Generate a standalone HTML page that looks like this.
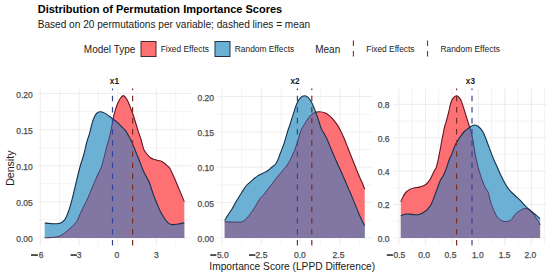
<!DOCTYPE html>
<html><head><meta charset="utf-8"><style>
html,body{margin:0;padding:0;background:#fff;}
body{width:550px;height:276px;overflow:hidden;}
svg{display:block;}
</style></head><body>
<svg width="550" height="276" viewBox="0 0 550 276">
<rect width="550" height="276" fill="#fff"/>
<text x="37.7" y="13.2" style="font-family:'Liberation Sans',sans-serif;font-size:11px;font-weight:bold" fill="#000">Distribution of Permutation Importance Scores</text>
<text x="37.7" y="28.3" style="font-family:'Liberation Sans',sans-serif;font-size:10.1px" fill="#1a1a1a">Based on 20 permutations per variable; dashed lines = mean</text>
<text x="83.8" y="52.8" style="font-family:'Liberation Sans',sans-serif;font-size:10px" fill="#1a1a1a">Model Type</text>
<rect x="141" y="41.5" width="15" height="15" fill="rgb(253,113,117)" stroke="#4d2a2a" stroke-width="1"/>
<text x="160.7" y="52.3" style="font-family:'Liberation Sans',sans-serif;font-size:8.4px" fill="#1a1a1a">Fixed Effects</text>
<rect x="215" y="41.5" width="15" height="15" fill="rgb(108,176,212)" stroke="#1f3448" stroke-width="1"/>
<text x="234.8" y="52.3" style="font-family:'Liberation Sans',sans-serif;font-size:8.4px" fill="#1a1a1a">Random Effects</text>
<text x="315.2" y="52.8" style="font-family:'Liberation Sans',sans-serif;font-size:10px" fill="#1a1a1a">Mean</text>
<line x1="353.4" y1="40.5" x2="353.4" y2="57" stroke="#7a3020" stroke-width="1.1" stroke-dasharray="5.5 5"/>
<text x="366.3" y="52.3" style="font-family:'Liberation Sans',sans-serif;font-size:8.4px" fill="#1a1a1a">Fixed Effects</text>
<line x1="427.5" y1="40.5" x2="427.5" y2="57" stroke="#34449e" stroke-width="1.1" stroke-dasharray="5.5 5"/>
<text x="440.5" y="52.3" style="font-family:'Liberation Sans',sans-serif;font-size:8.4px" fill="#1a1a1a">Random Effects</text>
<line x1="37.7" y1="219.85" x2="191.5" y2="219.85" stroke="#f3f3f3" stroke-width="1"/>
<line x1="37.7" y1="183.8" x2="191.5" y2="183.8" stroke="#f3f3f3" stroke-width="1"/>
<line x1="37.7" y1="147.75" x2="191.5" y2="147.75" stroke="#f3f3f3" stroke-width="1"/>
<line x1="37.7" y1="111.65" x2="191.5" y2="111.65" stroke="#f3f3f3" stroke-width="1"/>
<line x1="59.65" y1="88.5" x2="59.65" y2="245.6" stroke="#f3f3f3" stroke-width="1"/>
<line x1="98.35" y1="88.5" x2="98.35" y2="245.6" stroke="#f3f3f3" stroke-width="1"/>
<line x1="137.05" y1="88.5" x2="137.05" y2="245.6" stroke="#f3f3f3" stroke-width="1"/>
<line x1="175.75" y1="88.5" x2="175.75" y2="245.6" stroke="#f3f3f3" stroke-width="1"/>
<line x1="37.7" y1="237.9" x2="191.5" y2="237.9" stroke="#ececec" stroke-width="1"/>
<line x1="37.7" y1="201.8" x2="191.5" y2="201.8" stroke="#ececec" stroke-width="1"/>
<line x1="37.7" y1="165.8" x2="191.5" y2="165.8" stroke="#ececec" stroke-width="1"/>
<line x1="37.7" y1="129.7" x2="191.5" y2="129.7" stroke="#ececec" stroke-width="1"/>
<line x1="37.7" y1="93.6" x2="191.5" y2="93.6" stroke="#ececec" stroke-width="1"/>
<line x1="40.3" y1="88.5" x2="40.3" y2="245.6" stroke="#ececec" stroke-width="1"/>
<line x1="79.0" y1="88.5" x2="79.0" y2="245.6" stroke="#ececec" stroke-width="1"/>
<line x1="117.7" y1="88.5" x2="117.7" y2="245.6" stroke="#ececec" stroke-width="1"/>
<line x1="156.4" y1="88.5" x2="156.4" y2="245.6" stroke="#ececec" stroke-width="1"/>
<defs><clipPath id="cb0"><path d="M44.70,223.00 C45.58,223.08 48.37,223.37 50.00,223.50 C51.63,223.63 53.08,223.80 54.50,223.80 C55.92,223.80 57.28,223.72 58.50,223.50 C59.72,223.28 60.63,223.33 61.80,222.50 C62.97,221.67 64.30,220.58 65.50,218.50 C66.70,216.42 67.83,213.48 69.00,210.00 C70.17,206.52 71.27,202.38 72.50,197.60 C73.73,192.82 75.07,186.73 76.40,181.30 C77.73,175.87 79.23,169.55 80.50,165.00 C81.77,160.45 82.95,157.83 84.00,154.00 C85.05,150.17 85.83,145.57 86.80,142.00 C87.77,138.43 88.90,135.80 89.80,132.60 C90.70,129.40 91.38,125.52 92.20,122.80 C93.02,120.08 93.88,117.93 94.70,116.30 C95.52,114.67 96.25,113.75 97.10,113.00 C97.95,112.25 98.85,111.93 99.80,111.80 C100.75,111.67 101.75,111.85 102.80,112.20 C103.85,112.55 105.00,113.22 106.10,113.90 C107.20,114.58 108.28,115.47 109.40,116.30 C110.52,117.13 111.52,117.93 112.80,118.90 C114.08,119.87 115.72,120.90 117.10,122.10 C118.48,123.30 119.83,124.83 121.10,126.10 C122.37,127.37 123.68,128.52 124.70,129.70 C125.72,130.88 126.45,131.98 127.20,133.20 C127.95,134.42 128.55,135.78 129.20,137.00 C129.85,138.22 130.45,139.15 131.10,140.50 C131.75,141.85 132.43,143.50 133.10,145.10 C133.77,146.70 134.42,148.42 135.10,150.10 C135.78,151.78 136.52,153.50 137.20,155.20 C137.88,156.90 138.53,158.60 139.20,160.30 C139.87,162.00 140.50,163.62 141.20,165.40 C141.90,167.18 142.57,169.15 143.40,171.00 C144.23,172.85 145.27,174.75 146.20,176.50 C147.13,178.25 148.15,179.55 149.00,181.50 C149.85,183.45 150.55,185.97 151.30,188.20 C152.05,190.43 152.75,192.80 153.50,194.90 C154.25,197.00 155.05,198.93 155.80,200.80 C156.55,202.67 157.27,204.42 158.00,206.10 C158.73,207.78 159.47,209.40 160.20,210.90 C160.93,212.40 161.65,213.78 162.40,215.10 C163.15,216.42 163.95,217.72 164.70,218.80 C165.45,219.88 166.15,220.80 166.90,221.60 C167.65,222.40 168.42,223.12 169.20,223.60 C169.98,224.08 170.63,224.35 171.60,224.50 C172.57,224.65 173.85,224.58 175.00,224.50 C176.15,224.42 177.47,224.18 178.50,224.00 C179.53,223.82 180.23,223.62 181.20,223.40 C182.17,223.18 183.78,222.82 184.30,222.70 L184.30,237.90 L44.70,237.90 Z"/></clipPath></defs>
<path d="M44.70,237.80 C45.42,237.77 47.45,237.70 49.00,237.60 C50.55,237.50 52.30,237.42 54.00,237.20 C55.70,236.98 57.60,236.88 59.20,236.30 C60.80,235.72 62.30,234.57 63.60,233.70 C64.90,232.83 65.85,232.05 67.00,231.10 C68.15,230.15 69.33,229.08 70.50,228.00 C71.67,226.92 72.87,225.88 74.00,224.60 C75.13,223.32 76.18,222.30 77.30,220.30 C78.42,218.30 79.55,215.08 80.70,212.60 C81.85,210.12 83.18,207.47 84.20,205.40 C85.22,203.33 85.92,202.07 86.80,200.20 C87.68,198.33 88.47,196.62 89.50,194.20 C90.53,191.78 91.98,188.13 93.00,185.70 C94.02,183.27 94.78,181.50 95.60,179.60 C96.42,177.70 97.13,175.93 97.90,174.30 C98.67,172.67 99.43,171.62 100.20,169.80 C100.97,167.98 101.82,165.63 102.50,163.40 C103.18,161.17 103.78,158.43 104.30,156.40 C104.82,154.37 105.17,152.93 105.60,151.20 C106.03,149.47 106.23,148.37 106.90,146.00 C107.57,143.63 108.88,139.77 109.60,137.00 C110.32,134.23 110.73,131.77 111.20,129.40 C111.67,127.03 111.97,125.13 112.40,122.80 C112.83,120.47 113.25,117.73 113.80,115.40 C114.35,113.07 115.07,110.75 115.70,108.80 C116.33,106.85 116.87,105.38 117.60,103.70 C118.33,102.02 119.15,100.05 120.10,98.70 C121.05,97.35 122.23,95.60 123.30,95.60 C124.37,95.60 125.55,97.35 126.50,98.70 C127.45,100.05 128.27,102.02 129.00,103.70 C129.73,105.38 130.27,107.10 130.90,108.80 C131.53,110.50 132.17,112.10 132.80,113.90 C133.43,115.70 133.87,116.95 134.70,119.60 C135.53,122.25 136.73,126.47 137.80,129.80 C138.87,133.13 140.25,136.83 141.10,139.60 C141.95,142.37 142.40,144.67 142.90,146.40 C143.40,148.13 143.37,148.65 144.10,150.00 C144.83,151.35 146.17,153.17 147.30,154.50 C148.43,155.83 149.70,157.17 150.90,158.00 C152.10,158.83 153.28,159.08 154.50,159.50 C155.72,159.92 156.98,160.18 158.20,160.50 C159.42,160.82 160.75,160.95 161.80,161.40 C162.85,161.85 163.58,162.45 164.50,163.20 C165.42,163.95 166.42,165.07 167.30,165.90 C168.18,166.73 168.60,166.15 169.80,168.20 C171.00,170.25 172.97,174.73 174.50,178.20 C176.03,181.67 177.37,185.10 179.00,189.00 C180.63,192.90 183.42,199.50 184.30,201.60 L184.30,237.90 L44.70,237.90 Z" fill="rgb(253,113,117)"/>
<path d="M44.70,237.80 C45.42,237.77 47.45,237.70 49.00,237.60 C50.55,237.50 52.30,237.42 54.00,237.20 C55.70,236.98 57.60,236.88 59.20,236.30 C60.80,235.72 62.30,234.57 63.60,233.70 C64.90,232.83 65.85,232.05 67.00,231.10 C68.15,230.15 69.33,229.08 70.50,228.00 C71.67,226.92 72.87,225.88 74.00,224.60 C75.13,223.32 76.18,222.30 77.30,220.30 C78.42,218.30 79.55,215.08 80.70,212.60 C81.85,210.12 83.18,207.47 84.20,205.40 C85.22,203.33 85.92,202.07 86.80,200.20 C87.68,198.33 88.47,196.62 89.50,194.20 C90.53,191.78 91.98,188.13 93.00,185.70 C94.02,183.27 94.78,181.50 95.60,179.60 C96.42,177.70 97.13,175.93 97.90,174.30 C98.67,172.67 99.43,171.62 100.20,169.80 C100.97,167.98 101.82,165.63 102.50,163.40 C103.18,161.17 103.78,158.43 104.30,156.40 C104.82,154.37 105.17,152.93 105.60,151.20 C106.03,149.47 106.23,148.37 106.90,146.00 C107.57,143.63 108.88,139.77 109.60,137.00 C110.32,134.23 110.73,131.77 111.20,129.40 C111.67,127.03 111.97,125.13 112.40,122.80 C112.83,120.47 113.25,117.73 113.80,115.40 C114.35,113.07 115.07,110.75 115.70,108.80 C116.33,106.85 116.87,105.38 117.60,103.70 C118.33,102.02 119.15,100.05 120.10,98.70 C121.05,97.35 122.23,95.60 123.30,95.60 C124.37,95.60 125.55,97.35 126.50,98.70 C127.45,100.05 128.27,102.02 129.00,103.70 C129.73,105.38 130.27,107.10 130.90,108.80 C131.53,110.50 132.17,112.10 132.80,113.90 C133.43,115.70 133.87,116.95 134.70,119.60 C135.53,122.25 136.73,126.47 137.80,129.80 C138.87,133.13 140.25,136.83 141.10,139.60 C141.95,142.37 142.40,144.67 142.90,146.40 C143.40,148.13 143.37,148.65 144.10,150.00 C144.83,151.35 146.17,153.17 147.30,154.50 C148.43,155.83 149.70,157.17 150.90,158.00 C152.10,158.83 153.28,159.08 154.50,159.50 C155.72,159.92 156.98,160.18 158.20,160.50 C159.42,160.82 160.75,160.95 161.80,161.40 C162.85,161.85 163.58,162.45 164.50,163.20 C165.42,163.95 166.42,165.07 167.30,165.90 C168.18,166.73 168.60,166.15 169.80,168.20 C171.00,170.25 172.97,174.73 174.50,178.20 C176.03,181.67 177.37,185.10 179.00,189.00 C180.63,192.90 183.42,199.50 184.30,201.60" fill="none" stroke="#651522" stroke-width="1.1"/>
<path d="M44.70,223.00 C45.58,223.08 48.37,223.37 50.00,223.50 C51.63,223.63 53.08,223.80 54.50,223.80 C55.92,223.80 57.28,223.72 58.50,223.50 C59.72,223.28 60.63,223.33 61.80,222.50 C62.97,221.67 64.30,220.58 65.50,218.50 C66.70,216.42 67.83,213.48 69.00,210.00 C70.17,206.52 71.27,202.38 72.50,197.60 C73.73,192.82 75.07,186.73 76.40,181.30 C77.73,175.87 79.23,169.55 80.50,165.00 C81.77,160.45 82.95,157.83 84.00,154.00 C85.05,150.17 85.83,145.57 86.80,142.00 C87.77,138.43 88.90,135.80 89.80,132.60 C90.70,129.40 91.38,125.52 92.20,122.80 C93.02,120.08 93.88,117.93 94.70,116.30 C95.52,114.67 96.25,113.75 97.10,113.00 C97.95,112.25 98.85,111.93 99.80,111.80 C100.75,111.67 101.75,111.85 102.80,112.20 C103.85,112.55 105.00,113.22 106.10,113.90 C107.20,114.58 108.28,115.47 109.40,116.30 C110.52,117.13 111.52,117.93 112.80,118.90 C114.08,119.87 115.72,120.90 117.10,122.10 C118.48,123.30 119.83,124.83 121.10,126.10 C122.37,127.37 123.68,128.52 124.70,129.70 C125.72,130.88 126.45,131.98 127.20,133.20 C127.95,134.42 128.55,135.78 129.20,137.00 C129.85,138.22 130.45,139.15 131.10,140.50 C131.75,141.85 132.43,143.50 133.10,145.10 C133.77,146.70 134.42,148.42 135.10,150.10 C135.78,151.78 136.52,153.50 137.20,155.20 C137.88,156.90 138.53,158.60 139.20,160.30 C139.87,162.00 140.50,163.62 141.20,165.40 C141.90,167.18 142.57,169.15 143.40,171.00 C144.23,172.85 145.27,174.75 146.20,176.50 C147.13,178.25 148.15,179.55 149.00,181.50 C149.85,183.45 150.55,185.97 151.30,188.20 C152.05,190.43 152.75,192.80 153.50,194.90 C154.25,197.00 155.05,198.93 155.80,200.80 C156.55,202.67 157.27,204.42 158.00,206.10 C158.73,207.78 159.47,209.40 160.20,210.90 C160.93,212.40 161.65,213.78 162.40,215.10 C163.15,216.42 163.95,217.72 164.70,218.80 C165.45,219.88 166.15,220.80 166.90,221.60 C167.65,222.40 168.42,223.12 169.20,223.60 C169.98,224.08 170.63,224.35 171.60,224.50 C172.57,224.65 173.85,224.58 175.00,224.50 C176.15,224.42 177.47,224.18 178.50,224.00 C179.53,223.82 180.23,223.62 181.20,223.40 C182.17,223.18 183.78,222.82 184.30,222.70 L184.30,237.90 L44.70,237.90 Z" fill="rgb(108,176,212)"/>
<path d="M44.70,237.80 C45.42,237.77 47.45,237.70 49.00,237.60 C50.55,237.50 52.30,237.42 54.00,237.20 C55.70,236.98 57.60,236.88 59.20,236.30 C60.80,235.72 62.30,234.57 63.60,233.70 C64.90,232.83 65.85,232.05 67.00,231.10 C68.15,230.15 69.33,229.08 70.50,228.00 C71.67,226.92 72.87,225.88 74.00,224.60 C75.13,223.32 76.18,222.30 77.30,220.30 C78.42,218.30 79.55,215.08 80.70,212.60 C81.85,210.12 83.18,207.47 84.20,205.40 C85.22,203.33 85.92,202.07 86.80,200.20 C87.68,198.33 88.47,196.62 89.50,194.20 C90.53,191.78 91.98,188.13 93.00,185.70 C94.02,183.27 94.78,181.50 95.60,179.60 C96.42,177.70 97.13,175.93 97.90,174.30 C98.67,172.67 99.43,171.62 100.20,169.80 C100.97,167.98 101.82,165.63 102.50,163.40 C103.18,161.17 103.78,158.43 104.30,156.40 C104.82,154.37 105.17,152.93 105.60,151.20 C106.03,149.47 106.23,148.37 106.90,146.00 C107.57,143.63 108.88,139.77 109.60,137.00 C110.32,134.23 110.73,131.77 111.20,129.40 C111.67,127.03 111.97,125.13 112.40,122.80 C112.83,120.47 113.25,117.73 113.80,115.40 C114.35,113.07 115.07,110.75 115.70,108.80 C116.33,106.85 116.87,105.38 117.60,103.70 C118.33,102.02 119.15,100.05 120.10,98.70 C121.05,97.35 122.23,95.60 123.30,95.60 C124.37,95.60 125.55,97.35 126.50,98.70 C127.45,100.05 128.27,102.02 129.00,103.70 C129.73,105.38 130.27,107.10 130.90,108.80 C131.53,110.50 132.17,112.10 132.80,113.90 C133.43,115.70 133.87,116.95 134.70,119.60 C135.53,122.25 136.73,126.47 137.80,129.80 C138.87,133.13 140.25,136.83 141.10,139.60 C141.95,142.37 142.40,144.67 142.90,146.40 C143.40,148.13 143.37,148.65 144.10,150.00 C144.83,151.35 146.17,153.17 147.30,154.50 C148.43,155.83 149.70,157.17 150.90,158.00 C152.10,158.83 153.28,159.08 154.50,159.50 C155.72,159.92 156.98,160.18 158.20,160.50 C159.42,160.82 160.75,160.95 161.80,161.40 C162.85,161.85 163.58,162.45 164.50,163.20 C165.42,163.95 166.42,165.07 167.30,165.90 C168.18,166.73 168.60,166.15 169.80,168.20 C171.00,170.25 172.97,174.73 174.50,178.20 C176.03,181.67 177.37,185.10 179.00,189.00 C180.63,192.90 183.42,199.50 184.30,201.60 L184.30,237.90 L44.70,237.90 Z" fill="rgb(130,119,163)" clip-path="url(#cb0)"/>
<path d="M44.70,237.80 C45.42,237.77 47.45,237.70 49.00,237.60 C50.55,237.50 52.30,237.42 54.00,237.20 C55.70,236.98 57.60,236.88 59.20,236.30 C60.80,235.72 62.30,234.57 63.60,233.70 C64.90,232.83 65.85,232.05 67.00,231.10 C68.15,230.15 69.33,229.08 70.50,228.00 C71.67,226.92 72.87,225.88 74.00,224.60 C75.13,223.32 76.18,222.30 77.30,220.30 C78.42,218.30 79.55,215.08 80.70,212.60 C81.85,210.12 83.18,207.47 84.20,205.40 C85.22,203.33 85.92,202.07 86.80,200.20 C87.68,198.33 88.47,196.62 89.50,194.20 C90.53,191.78 91.98,188.13 93.00,185.70 C94.02,183.27 94.78,181.50 95.60,179.60 C96.42,177.70 97.13,175.93 97.90,174.30 C98.67,172.67 99.43,171.62 100.20,169.80 C100.97,167.98 101.82,165.63 102.50,163.40 C103.18,161.17 103.78,158.43 104.30,156.40 C104.82,154.37 105.17,152.93 105.60,151.20 C106.03,149.47 106.23,148.37 106.90,146.00 C107.57,143.63 108.88,139.77 109.60,137.00 C110.32,134.23 110.73,131.77 111.20,129.40 C111.67,127.03 111.97,125.13 112.40,122.80 C112.83,120.47 113.25,117.73 113.80,115.40 C114.35,113.07 115.07,110.75 115.70,108.80 C116.33,106.85 116.87,105.38 117.60,103.70 C118.33,102.02 119.15,100.05 120.10,98.70 C121.05,97.35 122.23,95.60 123.30,95.60 C124.37,95.60 125.55,97.35 126.50,98.70 C127.45,100.05 128.27,102.02 129.00,103.70 C129.73,105.38 130.27,107.10 130.90,108.80 C131.53,110.50 132.17,112.10 132.80,113.90 C133.43,115.70 133.87,116.95 134.70,119.60 C135.53,122.25 136.73,126.47 137.80,129.80 C138.87,133.13 140.25,136.83 141.10,139.60 C141.95,142.37 142.40,144.67 142.90,146.40 C143.40,148.13 143.37,148.65 144.10,150.00 C144.83,151.35 146.17,153.17 147.30,154.50 C148.43,155.83 149.70,157.17 150.90,158.00 C152.10,158.83 153.28,159.08 154.50,159.50 C155.72,159.92 156.98,160.18 158.20,160.50 C159.42,160.82 160.75,160.95 161.80,161.40 C162.85,161.85 163.58,162.45 164.50,163.20 C165.42,163.95 166.42,165.07 167.30,165.90 C168.18,166.73 168.60,166.15 169.80,168.20 C171.00,170.25 172.97,174.73 174.50,178.20 C176.03,181.67 177.37,185.10 179.00,189.00 C180.63,192.90 183.42,199.50 184.30,201.60" fill="none" stroke="#4a3a6a" stroke-width="1" clip-path="url(#cb0)"/>
<path d="M44.70,223.00 C45.58,223.08 48.37,223.37 50.00,223.50 C51.63,223.63 53.08,223.80 54.50,223.80 C55.92,223.80 57.28,223.72 58.50,223.50 C59.72,223.28 60.63,223.33 61.80,222.50 C62.97,221.67 64.30,220.58 65.50,218.50 C66.70,216.42 67.83,213.48 69.00,210.00 C70.17,206.52 71.27,202.38 72.50,197.60 C73.73,192.82 75.07,186.73 76.40,181.30 C77.73,175.87 79.23,169.55 80.50,165.00 C81.77,160.45 82.95,157.83 84.00,154.00 C85.05,150.17 85.83,145.57 86.80,142.00 C87.77,138.43 88.90,135.80 89.80,132.60 C90.70,129.40 91.38,125.52 92.20,122.80 C93.02,120.08 93.88,117.93 94.70,116.30 C95.52,114.67 96.25,113.75 97.10,113.00 C97.95,112.25 98.85,111.93 99.80,111.80 C100.75,111.67 101.75,111.85 102.80,112.20 C103.85,112.55 105.00,113.22 106.10,113.90 C107.20,114.58 108.28,115.47 109.40,116.30 C110.52,117.13 111.52,117.93 112.80,118.90 C114.08,119.87 115.72,120.90 117.10,122.10 C118.48,123.30 119.83,124.83 121.10,126.10 C122.37,127.37 123.68,128.52 124.70,129.70 C125.72,130.88 126.45,131.98 127.20,133.20 C127.95,134.42 128.55,135.78 129.20,137.00 C129.85,138.22 130.45,139.15 131.10,140.50 C131.75,141.85 132.43,143.50 133.10,145.10 C133.77,146.70 134.42,148.42 135.10,150.10 C135.78,151.78 136.52,153.50 137.20,155.20 C137.88,156.90 138.53,158.60 139.20,160.30 C139.87,162.00 140.50,163.62 141.20,165.40 C141.90,167.18 142.57,169.15 143.40,171.00 C144.23,172.85 145.27,174.75 146.20,176.50 C147.13,178.25 148.15,179.55 149.00,181.50 C149.85,183.45 150.55,185.97 151.30,188.20 C152.05,190.43 152.75,192.80 153.50,194.90 C154.25,197.00 155.05,198.93 155.80,200.80 C156.55,202.67 157.27,204.42 158.00,206.10 C158.73,207.78 159.47,209.40 160.20,210.90 C160.93,212.40 161.65,213.78 162.40,215.10 C163.15,216.42 163.95,217.72 164.70,218.80 C165.45,219.88 166.15,220.80 166.90,221.60 C167.65,222.40 168.42,223.12 169.20,223.60 C169.98,224.08 170.63,224.35 171.60,224.50 C172.57,224.65 173.85,224.58 175.00,224.50 C176.15,224.42 177.47,224.18 178.50,224.00 C179.53,223.82 180.23,223.62 181.20,223.40 C182.17,223.18 183.78,222.82 184.30,222.70" fill="none" stroke="#15304a" stroke-width="1.1"/>
<line x1="132.6" y1="245.6" x2="132.6" y2="88.5" stroke="#7a3020" stroke-width="1.2" stroke-dasharray="5.5 5.6"/>
<line x1="112.5" y1="245.6" x2="112.5" y2="88.5" stroke="#34449e" stroke-width="1.2" stroke-dasharray="5.5 5.6"/>
<text x="114.4" y="84.4" text-anchor="middle" style="font-family:'Liberation Sans',sans-serif;font-size:8.2px;font-weight:bold" fill="#1a1a1a">x1</text>
<text x="41.2" y="257.9" text-anchor="middle" style="font-family:'Liberation Sans',sans-serif;font-size:8.5px" fill="#4d4d4d" stroke="#4d4d4d" stroke-width="0.25">6</text>
<rect x="31.0" y="254.3" width="6.9" height="1.5" fill="#222"/>
<text x="79.2" y="257.9" text-anchor="middle" style="font-family:'Liberation Sans',sans-serif;font-size:8.5px" fill="#4d4d4d" stroke="#4d4d4d" stroke-width="0.25">3</text>
<rect x="70.6" y="254.3" width="6.3" height="1.5" fill="#222"/>
<text x="116.8" y="257.9" text-anchor="middle" style="font-family:'Liberation Sans',sans-serif;font-size:8.5px" fill="#4d4d4d" stroke="#4d4d4d" stroke-width="0.25">0</text>
<text x="156.4" y="257.9" text-anchor="middle" style="font-family:'Liberation Sans',sans-serif;font-size:8.5px" fill="#4d4d4d" stroke="#4d4d4d" stroke-width="0.25">3</text>
<text x="32.8" y="241.8" text-anchor="end" style="font-family:'Liberation Sans',sans-serif;font-size:8.5px" fill="#4d4d4d" stroke="#4d4d4d" stroke-width="0.25">0.00</text>
<text x="32.8" y="205.7" text-anchor="end" style="font-family:'Liberation Sans',sans-serif;font-size:8.5px" fill="#4d4d4d" stroke="#4d4d4d" stroke-width="0.25">0.05</text>
<text x="32.8" y="169.7" text-anchor="end" style="font-family:'Liberation Sans',sans-serif;font-size:8.5px" fill="#4d4d4d" stroke="#4d4d4d" stroke-width="0.25">0.10</text>
<text x="32.8" y="133.6" text-anchor="end" style="font-family:'Liberation Sans',sans-serif;font-size:8.5px" fill="#4d4d4d" stroke="#4d4d4d" stroke-width="0.25">0.15</text>
<text x="32.8" y="97.5" text-anchor="end" style="font-family:'Liberation Sans',sans-serif;font-size:8.5px" fill="#4d4d4d" stroke="#4d4d4d" stroke-width="0.25">0.20</text>
<line x1="217.7" y1="220.25" x2="371.7" y2="220.25" stroke="#f3f3f3" stroke-width="1"/>
<line x1="217.7" y1="184.9" x2="371.7" y2="184.9" stroke="#f3f3f3" stroke-width="1"/>
<line x1="217.7" y1="149.55" x2="371.7" y2="149.55" stroke="#f3f3f3" stroke-width="1"/>
<line x1="217.7" y1="114.25" x2="371.7" y2="114.25" stroke="#f3f3f3" stroke-width="1"/>
<line x1="241.7" y1="88.5" x2="241.7" y2="245.6" stroke="#f3f3f3" stroke-width="1"/>
<line x1="281.0" y1="88.5" x2="281.0" y2="245.6" stroke="#f3f3f3" stroke-width="1"/>
<line x1="320.3" y1="88.5" x2="320.3" y2="245.6" stroke="#f3f3f3" stroke-width="1"/>
<line x1="359.6" y1="88.5" x2="359.6" y2="245.6" stroke="#f3f3f3" stroke-width="1"/>
<line x1="217.7" y1="237.9" x2="371.7" y2="237.9" stroke="#ececec" stroke-width="1"/>
<line x1="217.7" y1="202.6" x2="371.7" y2="202.6" stroke="#ececec" stroke-width="1"/>
<line x1="217.7" y1="167.2" x2="371.7" y2="167.2" stroke="#ececec" stroke-width="1"/>
<line x1="217.7" y1="131.9" x2="371.7" y2="131.9" stroke="#ececec" stroke-width="1"/>
<line x1="217.7" y1="96.6" x2="371.7" y2="96.6" stroke="#ececec" stroke-width="1"/>
<line x1="222.0" y1="88.5" x2="222.0" y2="245.6" stroke="#ececec" stroke-width="1"/>
<line x1="261.3" y1="88.5" x2="261.3" y2="245.6" stroke="#ececec" stroke-width="1"/>
<line x1="300.6" y1="88.5" x2="300.6" y2="245.6" stroke="#ececec" stroke-width="1"/>
<line x1="340.0" y1="88.5" x2="340.0" y2="245.6" stroke="#ececec" stroke-width="1"/>
<defs><clipPath id="cb1"><path d="M224.70,220.50 C225.25,219.58 226.78,216.92 228.00,215.00 C229.22,213.08 230.83,210.92 232.00,209.00 C233.17,207.08 234.00,205.25 235.00,203.50 C236.00,201.75 236.83,200.42 238.00,198.50 C239.17,196.58 240.67,194.08 242.00,192.00 C243.33,189.92 244.67,187.62 246.00,186.00 C247.33,184.38 248.67,183.53 250.00,182.30 C251.33,181.07 252.67,179.72 254.00,178.60 C255.33,177.48 256.52,176.50 258.00,175.60 C259.48,174.70 261.25,174.05 262.90,173.20 C264.55,172.35 266.47,171.45 267.90,170.50 C269.33,169.55 270.28,168.50 271.50,167.50 C272.72,166.50 274.18,165.67 275.20,164.50 C276.22,163.33 276.72,162.45 277.60,160.50 C278.48,158.55 279.62,155.12 280.50,152.80 C281.38,150.48 282.18,148.55 282.90,146.60 C283.62,144.65 284.18,143.05 284.80,141.10 C285.42,139.15 286.03,136.83 286.60,134.90 C287.17,132.97 287.63,131.23 288.20,129.50 C288.77,127.77 289.33,126.52 290.00,124.50 C290.67,122.48 291.42,119.88 292.20,117.40 C292.98,114.92 293.88,112.02 294.70,109.60 C295.52,107.18 296.15,104.87 297.10,102.90 C298.05,100.93 299.17,98.98 300.40,97.80 C301.63,96.62 303.15,95.80 304.50,95.80 C305.85,95.80 307.28,96.65 308.50,97.80 C309.72,98.95 310.83,100.93 311.80,102.70 C312.77,104.47 313.48,106.37 314.30,108.40 C315.12,110.43 315.88,112.58 316.70,114.90 C317.52,117.22 318.38,119.88 319.20,122.30 C320.02,124.72 320.67,127.32 321.60,129.40 C322.53,131.48 323.73,132.82 324.80,134.80 C325.87,136.78 326.92,138.85 328.00,141.30 C329.08,143.75 330.25,146.97 331.30,149.50 C332.35,152.03 333.43,154.50 334.30,156.50 C335.17,158.50 335.73,159.78 336.50,161.50 C337.27,163.22 337.90,164.58 338.90,166.80 C339.90,169.02 341.52,172.60 342.50,174.80 C343.48,177.00 344.00,178.13 344.80,180.00 C345.60,181.87 346.38,183.87 347.30,186.00 C348.22,188.13 349.05,189.87 350.30,192.80 C351.55,195.73 353.32,199.98 354.80,203.60 C356.28,207.22 358.00,211.68 359.20,214.50 C360.40,217.32 361.08,218.62 362.00,220.50 C362.92,222.38 364.25,224.92 364.70,225.80 L364.70,237.90 L224.70,237.90 Z"/></clipPath></defs>
<path d="M224.70,221.80 C225.92,221.83 229.78,221.93 232.00,222.00 C234.22,222.07 236.18,222.30 238.00,222.20 C239.82,222.10 241.47,222.05 242.90,221.40 C244.33,220.75 245.37,219.53 246.60,218.30 C247.83,217.07 249.07,215.63 250.30,214.00 C251.53,212.37 252.77,210.45 254.00,208.50 C255.23,206.55 256.57,204.15 257.70,202.30 C258.83,200.45 259.87,198.58 260.80,197.40 C261.73,196.22 262.12,196.58 263.30,195.20 C264.48,193.82 266.32,191.15 267.90,189.10 C269.48,187.05 271.37,184.75 272.80,182.90 C274.23,181.05 275.37,179.43 276.50,178.00 C277.63,176.57 278.43,175.72 279.60,174.30 C280.77,172.88 282.12,171.22 283.50,169.50 C284.88,167.78 286.57,166.07 287.90,164.00 C289.23,161.93 290.38,159.38 291.50,157.10 C292.62,154.82 293.67,152.57 294.60,150.30 C295.53,148.03 296.38,145.65 297.10,143.50 C297.82,141.35 298.27,139.57 298.90,137.40 C299.53,135.23 299.97,132.68 300.90,130.50 C301.83,128.32 303.37,126.22 304.50,124.30 C305.63,122.38 306.62,120.55 307.70,119.00 C308.78,117.45 309.78,116.08 311.00,115.00 C312.22,113.92 313.58,113.03 315.00,112.50 C316.42,111.97 317.78,111.72 319.50,111.80 C321.22,111.88 323.62,112.32 325.30,113.00 C326.98,113.68 328.15,114.68 329.60,115.90 C331.05,117.12 332.67,118.72 334.00,120.30 C335.33,121.88 336.40,123.47 337.60,125.40 C338.80,127.33 340.10,129.72 341.20,131.90 C342.30,134.08 343.13,135.95 344.20,138.50 C345.27,141.05 346.55,144.53 347.60,147.20 C348.65,149.87 349.53,152.08 350.50,154.50 C351.47,156.92 352.43,159.28 353.40,161.70 C354.37,164.12 355.22,166.33 356.30,169.00 C357.38,171.67 358.87,175.28 359.90,177.70 C360.93,180.12 361.70,181.58 362.50,183.50 C363.30,185.42 364.33,188.25 364.70,189.20 L364.70,237.90 L224.70,237.90 Z" fill="rgb(253,113,117)"/>
<path d="M224.70,221.80 C225.92,221.83 229.78,221.93 232.00,222.00 C234.22,222.07 236.18,222.30 238.00,222.20 C239.82,222.10 241.47,222.05 242.90,221.40 C244.33,220.75 245.37,219.53 246.60,218.30 C247.83,217.07 249.07,215.63 250.30,214.00 C251.53,212.37 252.77,210.45 254.00,208.50 C255.23,206.55 256.57,204.15 257.70,202.30 C258.83,200.45 259.87,198.58 260.80,197.40 C261.73,196.22 262.12,196.58 263.30,195.20 C264.48,193.82 266.32,191.15 267.90,189.10 C269.48,187.05 271.37,184.75 272.80,182.90 C274.23,181.05 275.37,179.43 276.50,178.00 C277.63,176.57 278.43,175.72 279.60,174.30 C280.77,172.88 282.12,171.22 283.50,169.50 C284.88,167.78 286.57,166.07 287.90,164.00 C289.23,161.93 290.38,159.38 291.50,157.10 C292.62,154.82 293.67,152.57 294.60,150.30 C295.53,148.03 296.38,145.65 297.10,143.50 C297.82,141.35 298.27,139.57 298.90,137.40 C299.53,135.23 299.97,132.68 300.90,130.50 C301.83,128.32 303.37,126.22 304.50,124.30 C305.63,122.38 306.62,120.55 307.70,119.00 C308.78,117.45 309.78,116.08 311.00,115.00 C312.22,113.92 313.58,113.03 315.00,112.50 C316.42,111.97 317.78,111.72 319.50,111.80 C321.22,111.88 323.62,112.32 325.30,113.00 C326.98,113.68 328.15,114.68 329.60,115.90 C331.05,117.12 332.67,118.72 334.00,120.30 C335.33,121.88 336.40,123.47 337.60,125.40 C338.80,127.33 340.10,129.72 341.20,131.90 C342.30,134.08 343.13,135.95 344.20,138.50 C345.27,141.05 346.55,144.53 347.60,147.20 C348.65,149.87 349.53,152.08 350.50,154.50 C351.47,156.92 352.43,159.28 353.40,161.70 C354.37,164.12 355.22,166.33 356.30,169.00 C357.38,171.67 358.87,175.28 359.90,177.70 C360.93,180.12 361.70,181.58 362.50,183.50 C363.30,185.42 364.33,188.25 364.70,189.20" fill="none" stroke="#651522" stroke-width="1.1"/>
<path d="M224.70,220.50 C225.25,219.58 226.78,216.92 228.00,215.00 C229.22,213.08 230.83,210.92 232.00,209.00 C233.17,207.08 234.00,205.25 235.00,203.50 C236.00,201.75 236.83,200.42 238.00,198.50 C239.17,196.58 240.67,194.08 242.00,192.00 C243.33,189.92 244.67,187.62 246.00,186.00 C247.33,184.38 248.67,183.53 250.00,182.30 C251.33,181.07 252.67,179.72 254.00,178.60 C255.33,177.48 256.52,176.50 258.00,175.60 C259.48,174.70 261.25,174.05 262.90,173.20 C264.55,172.35 266.47,171.45 267.90,170.50 C269.33,169.55 270.28,168.50 271.50,167.50 C272.72,166.50 274.18,165.67 275.20,164.50 C276.22,163.33 276.72,162.45 277.60,160.50 C278.48,158.55 279.62,155.12 280.50,152.80 C281.38,150.48 282.18,148.55 282.90,146.60 C283.62,144.65 284.18,143.05 284.80,141.10 C285.42,139.15 286.03,136.83 286.60,134.90 C287.17,132.97 287.63,131.23 288.20,129.50 C288.77,127.77 289.33,126.52 290.00,124.50 C290.67,122.48 291.42,119.88 292.20,117.40 C292.98,114.92 293.88,112.02 294.70,109.60 C295.52,107.18 296.15,104.87 297.10,102.90 C298.05,100.93 299.17,98.98 300.40,97.80 C301.63,96.62 303.15,95.80 304.50,95.80 C305.85,95.80 307.28,96.65 308.50,97.80 C309.72,98.95 310.83,100.93 311.80,102.70 C312.77,104.47 313.48,106.37 314.30,108.40 C315.12,110.43 315.88,112.58 316.70,114.90 C317.52,117.22 318.38,119.88 319.20,122.30 C320.02,124.72 320.67,127.32 321.60,129.40 C322.53,131.48 323.73,132.82 324.80,134.80 C325.87,136.78 326.92,138.85 328.00,141.30 C329.08,143.75 330.25,146.97 331.30,149.50 C332.35,152.03 333.43,154.50 334.30,156.50 C335.17,158.50 335.73,159.78 336.50,161.50 C337.27,163.22 337.90,164.58 338.90,166.80 C339.90,169.02 341.52,172.60 342.50,174.80 C343.48,177.00 344.00,178.13 344.80,180.00 C345.60,181.87 346.38,183.87 347.30,186.00 C348.22,188.13 349.05,189.87 350.30,192.80 C351.55,195.73 353.32,199.98 354.80,203.60 C356.28,207.22 358.00,211.68 359.20,214.50 C360.40,217.32 361.08,218.62 362.00,220.50 C362.92,222.38 364.25,224.92 364.70,225.80 L364.70,237.90 L224.70,237.90 Z" fill="rgb(108,176,212)"/>
<path d="M224.70,221.80 C225.92,221.83 229.78,221.93 232.00,222.00 C234.22,222.07 236.18,222.30 238.00,222.20 C239.82,222.10 241.47,222.05 242.90,221.40 C244.33,220.75 245.37,219.53 246.60,218.30 C247.83,217.07 249.07,215.63 250.30,214.00 C251.53,212.37 252.77,210.45 254.00,208.50 C255.23,206.55 256.57,204.15 257.70,202.30 C258.83,200.45 259.87,198.58 260.80,197.40 C261.73,196.22 262.12,196.58 263.30,195.20 C264.48,193.82 266.32,191.15 267.90,189.10 C269.48,187.05 271.37,184.75 272.80,182.90 C274.23,181.05 275.37,179.43 276.50,178.00 C277.63,176.57 278.43,175.72 279.60,174.30 C280.77,172.88 282.12,171.22 283.50,169.50 C284.88,167.78 286.57,166.07 287.90,164.00 C289.23,161.93 290.38,159.38 291.50,157.10 C292.62,154.82 293.67,152.57 294.60,150.30 C295.53,148.03 296.38,145.65 297.10,143.50 C297.82,141.35 298.27,139.57 298.90,137.40 C299.53,135.23 299.97,132.68 300.90,130.50 C301.83,128.32 303.37,126.22 304.50,124.30 C305.63,122.38 306.62,120.55 307.70,119.00 C308.78,117.45 309.78,116.08 311.00,115.00 C312.22,113.92 313.58,113.03 315.00,112.50 C316.42,111.97 317.78,111.72 319.50,111.80 C321.22,111.88 323.62,112.32 325.30,113.00 C326.98,113.68 328.15,114.68 329.60,115.90 C331.05,117.12 332.67,118.72 334.00,120.30 C335.33,121.88 336.40,123.47 337.60,125.40 C338.80,127.33 340.10,129.72 341.20,131.90 C342.30,134.08 343.13,135.95 344.20,138.50 C345.27,141.05 346.55,144.53 347.60,147.20 C348.65,149.87 349.53,152.08 350.50,154.50 C351.47,156.92 352.43,159.28 353.40,161.70 C354.37,164.12 355.22,166.33 356.30,169.00 C357.38,171.67 358.87,175.28 359.90,177.70 C360.93,180.12 361.70,181.58 362.50,183.50 C363.30,185.42 364.33,188.25 364.70,189.20 L364.70,237.90 L224.70,237.90 Z" fill="rgb(130,119,163)" clip-path="url(#cb1)"/>
<path d="M224.70,221.80 C225.92,221.83 229.78,221.93 232.00,222.00 C234.22,222.07 236.18,222.30 238.00,222.20 C239.82,222.10 241.47,222.05 242.90,221.40 C244.33,220.75 245.37,219.53 246.60,218.30 C247.83,217.07 249.07,215.63 250.30,214.00 C251.53,212.37 252.77,210.45 254.00,208.50 C255.23,206.55 256.57,204.15 257.70,202.30 C258.83,200.45 259.87,198.58 260.80,197.40 C261.73,196.22 262.12,196.58 263.30,195.20 C264.48,193.82 266.32,191.15 267.90,189.10 C269.48,187.05 271.37,184.75 272.80,182.90 C274.23,181.05 275.37,179.43 276.50,178.00 C277.63,176.57 278.43,175.72 279.60,174.30 C280.77,172.88 282.12,171.22 283.50,169.50 C284.88,167.78 286.57,166.07 287.90,164.00 C289.23,161.93 290.38,159.38 291.50,157.10 C292.62,154.82 293.67,152.57 294.60,150.30 C295.53,148.03 296.38,145.65 297.10,143.50 C297.82,141.35 298.27,139.57 298.90,137.40 C299.53,135.23 299.97,132.68 300.90,130.50 C301.83,128.32 303.37,126.22 304.50,124.30 C305.63,122.38 306.62,120.55 307.70,119.00 C308.78,117.45 309.78,116.08 311.00,115.00 C312.22,113.92 313.58,113.03 315.00,112.50 C316.42,111.97 317.78,111.72 319.50,111.80 C321.22,111.88 323.62,112.32 325.30,113.00 C326.98,113.68 328.15,114.68 329.60,115.90 C331.05,117.12 332.67,118.72 334.00,120.30 C335.33,121.88 336.40,123.47 337.60,125.40 C338.80,127.33 340.10,129.72 341.20,131.90 C342.30,134.08 343.13,135.95 344.20,138.50 C345.27,141.05 346.55,144.53 347.60,147.20 C348.65,149.87 349.53,152.08 350.50,154.50 C351.47,156.92 352.43,159.28 353.40,161.70 C354.37,164.12 355.22,166.33 356.30,169.00 C357.38,171.67 358.87,175.28 359.90,177.70 C360.93,180.12 361.70,181.58 362.50,183.50 C363.30,185.42 364.33,188.25 364.70,189.20" fill="none" stroke="#4a3a6a" stroke-width="1" clip-path="url(#cb1)"/>
<path d="M224.70,220.50 C225.25,219.58 226.78,216.92 228.00,215.00 C229.22,213.08 230.83,210.92 232.00,209.00 C233.17,207.08 234.00,205.25 235.00,203.50 C236.00,201.75 236.83,200.42 238.00,198.50 C239.17,196.58 240.67,194.08 242.00,192.00 C243.33,189.92 244.67,187.62 246.00,186.00 C247.33,184.38 248.67,183.53 250.00,182.30 C251.33,181.07 252.67,179.72 254.00,178.60 C255.33,177.48 256.52,176.50 258.00,175.60 C259.48,174.70 261.25,174.05 262.90,173.20 C264.55,172.35 266.47,171.45 267.90,170.50 C269.33,169.55 270.28,168.50 271.50,167.50 C272.72,166.50 274.18,165.67 275.20,164.50 C276.22,163.33 276.72,162.45 277.60,160.50 C278.48,158.55 279.62,155.12 280.50,152.80 C281.38,150.48 282.18,148.55 282.90,146.60 C283.62,144.65 284.18,143.05 284.80,141.10 C285.42,139.15 286.03,136.83 286.60,134.90 C287.17,132.97 287.63,131.23 288.20,129.50 C288.77,127.77 289.33,126.52 290.00,124.50 C290.67,122.48 291.42,119.88 292.20,117.40 C292.98,114.92 293.88,112.02 294.70,109.60 C295.52,107.18 296.15,104.87 297.10,102.90 C298.05,100.93 299.17,98.98 300.40,97.80 C301.63,96.62 303.15,95.80 304.50,95.80 C305.85,95.80 307.28,96.65 308.50,97.80 C309.72,98.95 310.83,100.93 311.80,102.70 C312.77,104.47 313.48,106.37 314.30,108.40 C315.12,110.43 315.88,112.58 316.70,114.90 C317.52,117.22 318.38,119.88 319.20,122.30 C320.02,124.72 320.67,127.32 321.60,129.40 C322.53,131.48 323.73,132.82 324.80,134.80 C325.87,136.78 326.92,138.85 328.00,141.30 C329.08,143.75 330.25,146.97 331.30,149.50 C332.35,152.03 333.43,154.50 334.30,156.50 C335.17,158.50 335.73,159.78 336.50,161.50 C337.27,163.22 337.90,164.58 338.90,166.80 C339.90,169.02 341.52,172.60 342.50,174.80 C343.48,177.00 344.00,178.13 344.80,180.00 C345.60,181.87 346.38,183.87 347.30,186.00 C348.22,188.13 349.05,189.87 350.30,192.80 C351.55,195.73 353.32,199.98 354.80,203.60 C356.28,207.22 358.00,211.68 359.20,214.50 C360.40,217.32 361.08,218.62 362.00,220.50 C362.92,222.38 364.25,224.92 364.70,225.80" fill="none" stroke="#15304a" stroke-width="1.1"/>
<line x1="311.8" y1="245.6" x2="311.8" y2="88.5" stroke="#7a3020" stroke-width="1.2" stroke-dasharray="5.5 5.6"/>
<line x1="297.4" y1="245.6" x2="297.4" y2="88.5" stroke="#34449e" stroke-width="1.2" stroke-dasharray="5.5 5.6"/>
<text x="295.0" y="84.4" text-anchor="middle" style="font-family:'Liberation Sans',sans-serif;font-size:8.2px;font-weight:bold" fill="#1a1a1a">x2</text>
<text x="222.8" y="257.9" text-anchor="middle" style="font-family:'Liberation Sans',sans-serif;font-size:8.5px" fill="#4d4d4d" stroke="#4d4d4d" stroke-width="0.25">5.0</text>
<rect x="210.3" y="254.3" width="6.1" height="1.5" fill="#222"/>
<text x="261.5" y="257.9" text-anchor="middle" style="font-family:'Liberation Sans',sans-serif;font-size:8.5px" fill="#4d4d4d" stroke="#4d4d4d" stroke-width="0.25">2.5</text>
<rect x="249.0" y="254.3" width="6.4" height="1.5" fill="#222"/>
<text x="299.9" y="257.9" text-anchor="middle" style="font-family:'Liberation Sans',sans-serif;font-size:8.5px" fill="#4d4d4d" stroke="#4d4d4d" stroke-width="0.25">0.0</text>
<text x="338.5" y="257.9" text-anchor="middle" style="font-family:'Liberation Sans',sans-serif;font-size:8.5px" fill="#4d4d4d" stroke="#4d4d4d" stroke-width="0.25">2.5</text>
<text x="214.0" y="241.8" text-anchor="end" style="font-family:'Liberation Sans',sans-serif;font-size:8.5px" fill="#4d4d4d" stroke="#4d4d4d" stroke-width="0.25">0.00</text>
<text x="214.0" y="206.5" text-anchor="end" style="font-family:'Liberation Sans',sans-serif;font-size:8.5px" fill="#4d4d4d" stroke="#4d4d4d" stroke-width="0.25">0.05</text>
<text x="214.0" y="171.1" text-anchor="end" style="font-family:'Liberation Sans',sans-serif;font-size:8.5px" fill="#4d4d4d" stroke="#4d4d4d" stroke-width="0.25">0.10</text>
<text x="214.0" y="135.8" text-anchor="end" style="font-family:'Liberation Sans',sans-serif;font-size:8.5px" fill="#4d4d4d" stroke="#4d4d4d" stroke-width="0.25">0.15</text>
<text x="214.0" y="100.5" text-anchor="end" style="font-family:'Liberation Sans',sans-serif;font-size:8.5px" fill="#4d4d4d" stroke="#4d4d4d" stroke-width="0.25">0.20</text>
<line x1="393.4" y1="221.2" x2="546.8" y2="221.2" stroke="#f3f3f3" stroke-width="1"/>
<line x1="393.4" y1="187.8" x2="546.8" y2="187.8" stroke="#f3f3f3" stroke-width="1"/>
<line x1="393.4" y1="154.4" x2="546.8" y2="154.4" stroke="#f3f3f3" stroke-width="1"/>
<line x1="393.4" y1="121.0" x2="546.8" y2="121.0" stroke="#f3f3f3" stroke-width="1"/>
<line x1="412.1" y1="88.5" x2="412.1" y2="245.6" stroke="#f3f3f3" stroke-width="1"/>
<line x1="438.6" y1="88.5" x2="438.6" y2="245.6" stroke="#f3f3f3" stroke-width="1"/>
<line x1="465.1" y1="88.5" x2="465.1" y2="245.6" stroke="#f3f3f3" stroke-width="1"/>
<line x1="491.6" y1="88.5" x2="491.6" y2="245.6" stroke="#f3f3f3" stroke-width="1"/>
<line x1="518.1" y1="88.5" x2="518.1" y2="245.6" stroke="#f3f3f3" stroke-width="1"/>
<line x1="544.5" y1="88.5" x2="544.5" y2="245.6" stroke="#f3f3f3" stroke-width="1"/>
<line x1="393.4" y1="237.9" x2="546.8" y2="237.9" stroke="#ececec" stroke-width="1"/>
<line x1="393.4" y1="204.5" x2="546.8" y2="204.5" stroke="#ececec" stroke-width="1"/>
<line x1="393.4" y1="171.1" x2="546.8" y2="171.1" stroke="#ececec" stroke-width="1"/>
<line x1="393.4" y1="137.7" x2="546.8" y2="137.7" stroke="#ececec" stroke-width="1"/>
<line x1="393.4" y1="104.3" x2="546.8" y2="104.3" stroke="#ececec" stroke-width="1"/>
<line x1="398.9" y1="88.5" x2="398.9" y2="245.6" stroke="#ececec" stroke-width="1"/>
<line x1="425.4" y1="88.5" x2="425.4" y2="245.6" stroke="#ececec" stroke-width="1"/>
<line x1="451.9" y1="88.5" x2="451.9" y2="245.6" stroke="#ececec" stroke-width="1"/>
<line x1="478.4" y1="88.5" x2="478.4" y2="245.6" stroke="#ececec" stroke-width="1"/>
<line x1="504.8" y1="88.5" x2="504.8" y2="245.6" stroke="#ececec" stroke-width="1"/>
<line x1="531.3" y1="88.5" x2="531.3" y2="245.6" stroke="#ececec" stroke-width="1"/>
<defs><clipPath id="cb2"><path d="M400.80,215.80 C401.42,215.55 403.07,214.58 404.50,214.30 C405.93,214.02 407.77,214.03 409.40,214.10 C411.03,214.17 412.67,214.63 414.30,214.70 C415.93,214.77 417.83,214.78 419.20,214.50 C420.57,214.22 421.25,213.72 422.50,213.00 C423.75,212.28 425.28,211.60 426.70,210.20 C428.12,208.80 429.78,206.73 431.00,204.60 C432.22,202.47 433.15,199.57 434.00,197.40 C434.85,195.23 435.38,193.53 436.10,191.60 C436.82,189.67 437.57,187.73 438.30,185.80 C439.03,183.87 439.80,181.47 440.50,180.00 C441.20,178.53 441.87,178.08 442.50,177.00 C443.13,175.92 443.58,175.15 444.30,173.50 C445.02,171.85 445.98,169.40 446.80,167.10 C447.62,164.80 448.38,161.85 449.20,159.70 C450.02,157.55 450.93,156.07 451.70,154.20 C452.47,152.33 453.00,150.45 453.80,148.50 C454.60,146.55 455.37,144.53 456.50,142.50 C457.63,140.47 459.30,138.13 460.60,136.30 C461.90,134.47 463.07,132.80 464.30,131.50 C465.53,130.20 466.77,129.42 468.00,128.50 C469.23,127.58 470.60,126.58 471.70,126.00 C472.80,125.42 473.57,124.97 474.60,125.00 C475.63,125.03 476.80,125.47 477.90,126.20 C479.00,126.93 480.23,128.20 481.20,129.40 C482.17,130.60 482.88,131.75 483.70,133.40 C484.52,135.05 485.30,137.23 486.10,139.30 C486.90,141.37 487.68,143.60 488.50,145.80 C489.32,148.00 490.08,150.13 491.00,152.50 C491.92,154.87 492.92,157.45 494.00,160.00 C495.08,162.55 496.42,165.38 497.50,167.80 C498.58,170.22 499.48,172.33 500.50,174.50 C501.52,176.67 502.53,178.78 503.60,180.80 C504.67,182.82 505.68,184.80 506.90,186.60 C508.12,188.40 509.47,190.03 510.90,191.60 C512.33,193.17 513.90,194.50 515.50,196.00 C517.10,197.50 518.83,198.90 520.50,200.60 C522.17,202.30 523.78,204.48 525.50,206.20 C527.22,207.92 529.08,209.43 530.80,210.90 C532.52,212.37 534.25,213.72 535.80,215.00 C537.35,216.28 539.38,218.00 540.10,218.60 L540.10,237.90 L400.80,237.90 Z"/></clipPath></defs>
<path d="M400.80,201.80 C401.15,200.98 402.00,198.53 402.90,196.90 C403.80,195.27 404.98,193.28 406.20,192.00 C407.42,190.72 408.85,189.88 410.20,189.20 C411.55,188.52 412.80,188.25 414.30,187.90 C415.80,187.55 417.57,187.50 419.20,187.10 C420.83,186.70 422.73,186.18 424.10,185.50 C425.47,184.82 426.45,183.95 427.40,183.00 C428.35,182.05 429.07,180.97 429.80,179.80 C430.53,178.63 431.10,177.38 431.80,176.00 C432.50,174.62 433.25,172.98 434.00,171.50 C434.75,170.02 435.60,169.07 436.30,167.10 C437.00,165.13 437.68,161.97 438.20,159.70 C438.72,157.43 439.00,155.55 439.40,153.50 C439.80,151.45 440.18,149.65 440.60,147.40 C441.02,145.15 441.45,142.40 441.90,140.00 C442.35,137.60 442.82,135.33 443.30,133.00 C443.78,130.67 444.23,128.17 444.80,126.00 C445.37,123.83 446.13,122.00 446.70,120.00 C447.27,118.00 447.72,116.00 448.20,114.00 C448.68,112.00 449.15,109.88 449.60,108.00 C450.05,106.12 450.33,104.32 450.90,102.70 C451.47,101.08 452.10,99.47 453.00,98.30 C453.90,97.13 455.22,95.78 456.30,95.70 C457.38,95.62 458.57,96.63 459.50,97.80 C460.43,98.97 461.15,100.80 461.90,102.70 C462.65,104.60 463.32,107.03 464.00,109.20 C464.68,111.37 465.32,113.52 466.00,115.70 C466.68,117.88 467.42,120.17 468.10,122.30 C468.78,124.43 469.50,126.47 470.10,128.50 C470.70,130.53 471.18,132.25 471.70,134.50 C472.22,136.75 472.72,139.33 473.20,142.00 C473.68,144.67 474.08,147.58 474.60,150.50 C475.12,153.42 475.70,156.67 476.30,159.50 C476.90,162.33 477.52,164.95 478.20,167.50 C478.88,170.05 479.65,172.47 480.40,174.80 C481.15,177.13 481.93,179.47 482.70,181.50 C483.47,183.53 484.07,185.17 485.00,187.00 C485.93,188.83 487.53,190.63 488.30,192.50 C489.07,194.37 489.08,196.23 489.60,198.20 C490.12,200.17 490.68,202.25 491.40,204.30 C492.12,206.35 493.08,208.63 493.90,210.50 C494.72,212.37 495.38,214.05 496.30,215.50 C497.22,216.95 498.37,218.28 499.40,219.20 C500.43,220.12 501.47,220.60 502.50,221.00 C503.53,221.40 504.57,221.60 505.60,221.60 C506.63,221.60 507.73,221.35 508.70,221.00 C509.67,220.65 510.38,220.53 511.40,219.50 C512.42,218.47 513.45,216.25 514.80,214.80 C516.15,213.35 518.00,211.82 519.50,210.80 C521.00,209.78 522.42,209.00 523.80,208.70 C525.18,208.40 526.58,208.53 527.80,209.00 C529.02,209.47 530.00,210.40 531.10,211.50 C532.20,212.60 533.42,214.28 534.40,215.60 C535.38,216.92 536.20,218.22 537.00,219.40 C537.80,220.58 538.68,221.77 539.20,222.70 C539.72,223.63 539.95,224.62 540.10,225.00 L540.10,237.90 L400.80,237.90 Z" fill="rgb(253,113,117)"/>
<path d="M400.80,201.80 C401.15,200.98 402.00,198.53 402.90,196.90 C403.80,195.27 404.98,193.28 406.20,192.00 C407.42,190.72 408.85,189.88 410.20,189.20 C411.55,188.52 412.80,188.25 414.30,187.90 C415.80,187.55 417.57,187.50 419.20,187.10 C420.83,186.70 422.73,186.18 424.10,185.50 C425.47,184.82 426.45,183.95 427.40,183.00 C428.35,182.05 429.07,180.97 429.80,179.80 C430.53,178.63 431.10,177.38 431.80,176.00 C432.50,174.62 433.25,172.98 434.00,171.50 C434.75,170.02 435.60,169.07 436.30,167.10 C437.00,165.13 437.68,161.97 438.20,159.70 C438.72,157.43 439.00,155.55 439.40,153.50 C439.80,151.45 440.18,149.65 440.60,147.40 C441.02,145.15 441.45,142.40 441.90,140.00 C442.35,137.60 442.82,135.33 443.30,133.00 C443.78,130.67 444.23,128.17 444.80,126.00 C445.37,123.83 446.13,122.00 446.70,120.00 C447.27,118.00 447.72,116.00 448.20,114.00 C448.68,112.00 449.15,109.88 449.60,108.00 C450.05,106.12 450.33,104.32 450.90,102.70 C451.47,101.08 452.10,99.47 453.00,98.30 C453.90,97.13 455.22,95.78 456.30,95.70 C457.38,95.62 458.57,96.63 459.50,97.80 C460.43,98.97 461.15,100.80 461.90,102.70 C462.65,104.60 463.32,107.03 464.00,109.20 C464.68,111.37 465.32,113.52 466.00,115.70 C466.68,117.88 467.42,120.17 468.10,122.30 C468.78,124.43 469.50,126.47 470.10,128.50 C470.70,130.53 471.18,132.25 471.70,134.50 C472.22,136.75 472.72,139.33 473.20,142.00 C473.68,144.67 474.08,147.58 474.60,150.50 C475.12,153.42 475.70,156.67 476.30,159.50 C476.90,162.33 477.52,164.95 478.20,167.50 C478.88,170.05 479.65,172.47 480.40,174.80 C481.15,177.13 481.93,179.47 482.70,181.50 C483.47,183.53 484.07,185.17 485.00,187.00 C485.93,188.83 487.53,190.63 488.30,192.50 C489.07,194.37 489.08,196.23 489.60,198.20 C490.12,200.17 490.68,202.25 491.40,204.30 C492.12,206.35 493.08,208.63 493.90,210.50 C494.72,212.37 495.38,214.05 496.30,215.50 C497.22,216.95 498.37,218.28 499.40,219.20 C500.43,220.12 501.47,220.60 502.50,221.00 C503.53,221.40 504.57,221.60 505.60,221.60 C506.63,221.60 507.73,221.35 508.70,221.00 C509.67,220.65 510.38,220.53 511.40,219.50 C512.42,218.47 513.45,216.25 514.80,214.80 C516.15,213.35 518.00,211.82 519.50,210.80 C521.00,209.78 522.42,209.00 523.80,208.70 C525.18,208.40 526.58,208.53 527.80,209.00 C529.02,209.47 530.00,210.40 531.10,211.50 C532.20,212.60 533.42,214.28 534.40,215.60 C535.38,216.92 536.20,218.22 537.00,219.40 C537.80,220.58 538.68,221.77 539.20,222.70 C539.72,223.63 539.95,224.62 540.10,225.00" fill="none" stroke="#651522" stroke-width="1.1"/>
<path d="M400.80,215.80 C401.42,215.55 403.07,214.58 404.50,214.30 C405.93,214.02 407.77,214.03 409.40,214.10 C411.03,214.17 412.67,214.63 414.30,214.70 C415.93,214.77 417.83,214.78 419.20,214.50 C420.57,214.22 421.25,213.72 422.50,213.00 C423.75,212.28 425.28,211.60 426.70,210.20 C428.12,208.80 429.78,206.73 431.00,204.60 C432.22,202.47 433.15,199.57 434.00,197.40 C434.85,195.23 435.38,193.53 436.10,191.60 C436.82,189.67 437.57,187.73 438.30,185.80 C439.03,183.87 439.80,181.47 440.50,180.00 C441.20,178.53 441.87,178.08 442.50,177.00 C443.13,175.92 443.58,175.15 444.30,173.50 C445.02,171.85 445.98,169.40 446.80,167.10 C447.62,164.80 448.38,161.85 449.20,159.70 C450.02,157.55 450.93,156.07 451.70,154.20 C452.47,152.33 453.00,150.45 453.80,148.50 C454.60,146.55 455.37,144.53 456.50,142.50 C457.63,140.47 459.30,138.13 460.60,136.30 C461.90,134.47 463.07,132.80 464.30,131.50 C465.53,130.20 466.77,129.42 468.00,128.50 C469.23,127.58 470.60,126.58 471.70,126.00 C472.80,125.42 473.57,124.97 474.60,125.00 C475.63,125.03 476.80,125.47 477.90,126.20 C479.00,126.93 480.23,128.20 481.20,129.40 C482.17,130.60 482.88,131.75 483.70,133.40 C484.52,135.05 485.30,137.23 486.10,139.30 C486.90,141.37 487.68,143.60 488.50,145.80 C489.32,148.00 490.08,150.13 491.00,152.50 C491.92,154.87 492.92,157.45 494.00,160.00 C495.08,162.55 496.42,165.38 497.50,167.80 C498.58,170.22 499.48,172.33 500.50,174.50 C501.52,176.67 502.53,178.78 503.60,180.80 C504.67,182.82 505.68,184.80 506.90,186.60 C508.12,188.40 509.47,190.03 510.90,191.60 C512.33,193.17 513.90,194.50 515.50,196.00 C517.10,197.50 518.83,198.90 520.50,200.60 C522.17,202.30 523.78,204.48 525.50,206.20 C527.22,207.92 529.08,209.43 530.80,210.90 C532.52,212.37 534.25,213.72 535.80,215.00 C537.35,216.28 539.38,218.00 540.10,218.60 L540.10,237.90 L400.80,237.90 Z" fill="rgb(108,176,212)"/>
<path d="M400.80,201.80 C401.15,200.98 402.00,198.53 402.90,196.90 C403.80,195.27 404.98,193.28 406.20,192.00 C407.42,190.72 408.85,189.88 410.20,189.20 C411.55,188.52 412.80,188.25 414.30,187.90 C415.80,187.55 417.57,187.50 419.20,187.10 C420.83,186.70 422.73,186.18 424.10,185.50 C425.47,184.82 426.45,183.95 427.40,183.00 C428.35,182.05 429.07,180.97 429.80,179.80 C430.53,178.63 431.10,177.38 431.80,176.00 C432.50,174.62 433.25,172.98 434.00,171.50 C434.75,170.02 435.60,169.07 436.30,167.10 C437.00,165.13 437.68,161.97 438.20,159.70 C438.72,157.43 439.00,155.55 439.40,153.50 C439.80,151.45 440.18,149.65 440.60,147.40 C441.02,145.15 441.45,142.40 441.90,140.00 C442.35,137.60 442.82,135.33 443.30,133.00 C443.78,130.67 444.23,128.17 444.80,126.00 C445.37,123.83 446.13,122.00 446.70,120.00 C447.27,118.00 447.72,116.00 448.20,114.00 C448.68,112.00 449.15,109.88 449.60,108.00 C450.05,106.12 450.33,104.32 450.90,102.70 C451.47,101.08 452.10,99.47 453.00,98.30 C453.90,97.13 455.22,95.78 456.30,95.70 C457.38,95.62 458.57,96.63 459.50,97.80 C460.43,98.97 461.15,100.80 461.90,102.70 C462.65,104.60 463.32,107.03 464.00,109.20 C464.68,111.37 465.32,113.52 466.00,115.70 C466.68,117.88 467.42,120.17 468.10,122.30 C468.78,124.43 469.50,126.47 470.10,128.50 C470.70,130.53 471.18,132.25 471.70,134.50 C472.22,136.75 472.72,139.33 473.20,142.00 C473.68,144.67 474.08,147.58 474.60,150.50 C475.12,153.42 475.70,156.67 476.30,159.50 C476.90,162.33 477.52,164.95 478.20,167.50 C478.88,170.05 479.65,172.47 480.40,174.80 C481.15,177.13 481.93,179.47 482.70,181.50 C483.47,183.53 484.07,185.17 485.00,187.00 C485.93,188.83 487.53,190.63 488.30,192.50 C489.07,194.37 489.08,196.23 489.60,198.20 C490.12,200.17 490.68,202.25 491.40,204.30 C492.12,206.35 493.08,208.63 493.90,210.50 C494.72,212.37 495.38,214.05 496.30,215.50 C497.22,216.95 498.37,218.28 499.40,219.20 C500.43,220.12 501.47,220.60 502.50,221.00 C503.53,221.40 504.57,221.60 505.60,221.60 C506.63,221.60 507.73,221.35 508.70,221.00 C509.67,220.65 510.38,220.53 511.40,219.50 C512.42,218.47 513.45,216.25 514.80,214.80 C516.15,213.35 518.00,211.82 519.50,210.80 C521.00,209.78 522.42,209.00 523.80,208.70 C525.18,208.40 526.58,208.53 527.80,209.00 C529.02,209.47 530.00,210.40 531.10,211.50 C532.20,212.60 533.42,214.28 534.40,215.60 C535.38,216.92 536.20,218.22 537.00,219.40 C537.80,220.58 538.68,221.77 539.20,222.70 C539.72,223.63 539.95,224.62 540.10,225.00 L540.10,237.90 L400.80,237.90 Z" fill="rgb(130,119,163)" clip-path="url(#cb2)"/>
<path d="M400.80,201.80 C401.15,200.98 402.00,198.53 402.90,196.90 C403.80,195.27 404.98,193.28 406.20,192.00 C407.42,190.72 408.85,189.88 410.20,189.20 C411.55,188.52 412.80,188.25 414.30,187.90 C415.80,187.55 417.57,187.50 419.20,187.10 C420.83,186.70 422.73,186.18 424.10,185.50 C425.47,184.82 426.45,183.95 427.40,183.00 C428.35,182.05 429.07,180.97 429.80,179.80 C430.53,178.63 431.10,177.38 431.80,176.00 C432.50,174.62 433.25,172.98 434.00,171.50 C434.75,170.02 435.60,169.07 436.30,167.10 C437.00,165.13 437.68,161.97 438.20,159.70 C438.72,157.43 439.00,155.55 439.40,153.50 C439.80,151.45 440.18,149.65 440.60,147.40 C441.02,145.15 441.45,142.40 441.90,140.00 C442.35,137.60 442.82,135.33 443.30,133.00 C443.78,130.67 444.23,128.17 444.80,126.00 C445.37,123.83 446.13,122.00 446.70,120.00 C447.27,118.00 447.72,116.00 448.20,114.00 C448.68,112.00 449.15,109.88 449.60,108.00 C450.05,106.12 450.33,104.32 450.90,102.70 C451.47,101.08 452.10,99.47 453.00,98.30 C453.90,97.13 455.22,95.78 456.30,95.70 C457.38,95.62 458.57,96.63 459.50,97.80 C460.43,98.97 461.15,100.80 461.90,102.70 C462.65,104.60 463.32,107.03 464.00,109.20 C464.68,111.37 465.32,113.52 466.00,115.70 C466.68,117.88 467.42,120.17 468.10,122.30 C468.78,124.43 469.50,126.47 470.10,128.50 C470.70,130.53 471.18,132.25 471.70,134.50 C472.22,136.75 472.72,139.33 473.20,142.00 C473.68,144.67 474.08,147.58 474.60,150.50 C475.12,153.42 475.70,156.67 476.30,159.50 C476.90,162.33 477.52,164.95 478.20,167.50 C478.88,170.05 479.65,172.47 480.40,174.80 C481.15,177.13 481.93,179.47 482.70,181.50 C483.47,183.53 484.07,185.17 485.00,187.00 C485.93,188.83 487.53,190.63 488.30,192.50 C489.07,194.37 489.08,196.23 489.60,198.20 C490.12,200.17 490.68,202.25 491.40,204.30 C492.12,206.35 493.08,208.63 493.90,210.50 C494.72,212.37 495.38,214.05 496.30,215.50 C497.22,216.95 498.37,218.28 499.40,219.20 C500.43,220.12 501.47,220.60 502.50,221.00 C503.53,221.40 504.57,221.60 505.60,221.60 C506.63,221.60 507.73,221.35 508.70,221.00 C509.67,220.65 510.38,220.53 511.40,219.50 C512.42,218.47 513.45,216.25 514.80,214.80 C516.15,213.35 518.00,211.82 519.50,210.80 C521.00,209.78 522.42,209.00 523.80,208.70 C525.18,208.40 526.58,208.53 527.80,209.00 C529.02,209.47 530.00,210.40 531.10,211.50 C532.20,212.60 533.42,214.28 534.40,215.60 C535.38,216.92 536.20,218.22 537.00,219.40 C537.80,220.58 538.68,221.77 539.20,222.70 C539.72,223.63 539.95,224.62 540.10,225.00" fill="none" stroke="#4a3a6a" stroke-width="1" clip-path="url(#cb2)"/>
<path d="M400.80,215.80 C401.42,215.55 403.07,214.58 404.50,214.30 C405.93,214.02 407.77,214.03 409.40,214.10 C411.03,214.17 412.67,214.63 414.30,214.70 C415.93,214.77 417.83,214.78 419.20,214.50 C420.57,214.22 421.25,213.72 422.50,213.00 C423.75,212.28 425.28,211.60 426.70,210.20 C428.12,208.80 429.78,206.73 431.00,204.60 C432.22,202.47 433.15,199.57 434.00,197.40 C434.85,195.23 435.38,193.53 436.10,191.60 C436.82,189.67 437.57,187.73 438.30,185.80 C439.03,183.87 439.80,181.47 440.50,180.00 C441.20,178.53 441.87,178.08 442.50,177.00 C443.13,175.92 443.58,175.15 444.30,173.50 C445.02,171.85 445.98,169.40 446.80,167.10 C447.62,164.80 448.38,161.85 449.20,159.70 C450.02,157.55 450.93,156.07 451.70,154.20 C452.47,152.33 453.00,150.45 453.80,148.50 C454.60,146.55 455.37,144.53 456.50,142.50 C457.63,140.47 459.30,138.13 460.60,136.30 C461.90,134.47 463.07,132.80 464.30,131.50 C465.53,130.20 466.77,129.42 468.00,128.50 C469.23,127.58 470.60,126.58 471.70,126.00 C472.80,125.42 473.57,124.97 474.60,125.00 C475.63,125.03 476.80,125.47 477.90,126.20 C479.00,126.93 480.23,128.20 481.20,129.40 C482.17,130.60 482.88,131.75 483.70,133.40 C484.52,135.05 485.30,137.23 486.10,139.30 C486.90,141.37 487.68,143.60 488.50,145.80 C489.32,148.00 490.08,150.13 491.00,152.50 C491.92,154.87 492.92,157.45 494.00,160.00 C495.08,162.55 496.42,165.38 497.50,167.80 C498.58,170.22 499.48,172.33 500.50,174.50 C501.52,176.67 502.53,178.78 503.60,180.80 C504.67,182.82 505.68,184.80 506.90,186.60 C508.12,188.40 509.47,190.03 510.90,191.60 C512.33,193.17 513.90,194.50 515.50,196.00 C517.10,197.50 518.83,198.90 520.50,200.60 C522.17,202.30 523.78,204.48 525.50,206.20 C527.22,207.92 529.08,209.43 530.80,210.90 C532.52,212.37 534.25,213.72 535.80,215.00 C537.35,216.28 539.38,218.00 540.10,218.60" fill="none" stroke="#15304a" stroke-width="1.1"/>
<line x1="456.6" y1="245.6" x2="456.6" y2="88.5" stroke="#7a3020" stroke-width="1.2" stroke-dasharray="5.5 5.6"/>
<line x1="472.0" y1="245.6" x2="472.0" y2="88.5" stroke="#34449e" stroke-width="1.2" stroke-dasharray="5.5 5.6"/>
<text x="470.4" y="84.4" text-anchor="middle" style="font-family:'Liberation Sans',sans-serif;font-size:8.2px;font-weight:bold" fill="#1a1a1a">x3</text>
<text x="399.4" y="257.9" text-anchor="middle" style="font-family:'Liberation Sans',sans-serif;font-size:8.5px" fill="#4d4d4d" stroke="#4d4d4d" stroke-width="0.25">0.5</text>
<rect x="386.8" y="254.3" width="6.1" height="1.5" fill="#222"/>
<text x="424.2" y="257.9" text-anchor="middle" style="font-family:'Liberation Sans',sans-serif;font-size:8.5px" fill="#4d4d4d" stroke="#4d4d4d" stroke-width="0.25">0.0</text>
<text x="450.5" y="257.9" text-anchor="middle" style="font-family:'Liberation Sans',sans-serif;font-size:8.5px" fill="#4d4d4d" stroke="#4d4d4d" stroke-width="0.25">0.5</text>
<text x="477.8" y="257.9" text-anchor="middle" style="font-family:'Liberation Sans',sans-serif;font-size:8.5px" fill="#4d4d4d" stroke="#4d4d4d" stroke-width="0.25">1.0</text>
<text x="504.6" y="257.9" text-anchor="middle" style="font-family:'Liberation Sans',sans-serif;font-size:8.5px" fill="#4d4d4d" stroke="#4d4d4d" stroke-width="0.25">1.5</text>
<text x="530.4" y="257.9" text-anchor="middle" style="font-family:'Liberation Sans',sans-serif;font-size:8.5px" fill="#4d4d4d" stroke="#4d4d4d" stroke-width="0.25">2.0</text>
<text x="389.6" y="241.8" text-anchor="end" style="font-family:'Liberation Sans',sans-serif;font-size:8.5px" fill="#4d4d4d" stroke="#4d4d4d" stroke-width="0.25">0.0</text>
<text x="389.6" y="208.4" text-anchor="end" style="font-family:'Liberation Sans',sans-serif;font-size:8.5px" fill="#4d4d4d" stroke="#4d4d4d" stroke-width="0.25">0.2</text>
<text x="389.6" y="175.0" text-anchor="end" style="font-family:'Liberation Sans',sans-serif;font-size:8.5px" fill="#4d4d4d" stroke="#4d4d4d" stroke-width="0.25">0.4</text>
<text x="389.6" y="141.6" text-anchor="end" style="font-family:'Liberation Sans',sans-serif;font-size:8.5px" fill="#4d4d4d" stroke="#4d4d4d" stroke-width="0.25">0.6</text>
<text x="389.6" y="108.2" text-anchor="end" style="font-family:'Liberation Sans',sans-serif;font-size:8.5px" fill="#4d4d4d" stroke="#4d4d4d" stroke-width="0.25">0.8</text>
<text x="292.2" y="269.6" text-anchor="middle" style="font-family:'Liberation Sans',sans-serif;font-size:10.2px" fill="#1a1a1a">Importance Score (LPPD Difference)</text>
<text transform="translate(13.7,168.2) rotate(-90)" text-anchor="middle" style="font-family:'Liberation Sans',sans-serif;font-size:10.6px" fill="#1a1a1a">Density</text>
</svg>
</body></html>
